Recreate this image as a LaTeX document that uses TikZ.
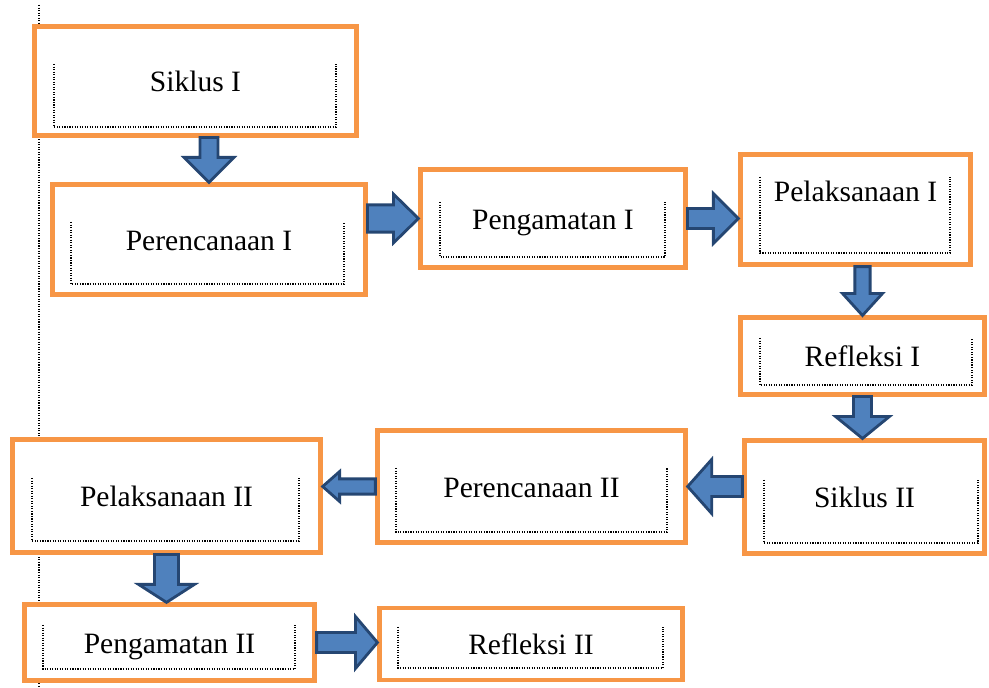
\documentclass[tikz,border=0pt]{standalone}
\usepackage{fontspec}
\setmainfont{Liberation Serif}
\usetikzlibrary{calc}
\definecolor{boxorange}{HTML}{F79646}
\definecolor{arrowfill}{HTML}{4F81BD}
\definecolor{arrowline}{HTML}{254672}
\tikzset{
x=0.025cm, y=-0.025cm, % one unit is one pixel of the sketch, y grows downwards
box/.style={draw=boxorange, fill=white, line width=3pt, text height=18pt, text depth=3pt, font=\fontsize{21}{25}\selectfont}, % the orange frames
bracket/.style={densely dotted, line width=0.8pt}, % dotted inner frame, open at the top
blk shaft/.store in=\blkshaft, blk shaft=0.25cm, % half width of the arrow body
blk head/.store in=\blkhead, blk head=0.6cm, % half width of the arrow head
blk len/.store in=\blklen, blk len=0.6cm, % length of the arrow head
blockarrow/.style={draw=arrowline, fill=arrowfill, line width=2pt, line join=miter,
  to path={let \p1=($(\tikztotarget)!\blklen!(\tikztostart)$) in
    ($(\tikztostart)!\blkshaft!90:(\tikztotarget)$)
    -- ($(\p1)!\blkshaft!-90:(\tikztostart)$)
    -- ($(\p1)!\blkhead!-90:(\tikztostart)$)
    -- (\tikztotarget)
    -- ($(\p1)!\blkhead!90:(\tikztostart)$)
    -- ($(\p1)!\blkshaft!90:(\tikztostart)$)
    -- ($(\tikztostart)!\blkshaft!-90:(\tikztotarget)$)
    -- cycle}}, % fat block arrow from start to target
}

\begin{document}
\begin{tikzpicture}
    \useasboundingbox (0,0) rectangle (989,688);

    % dotted margin line
    \coordinate (mtop) at (39,5);
    \coordinate (mbot) at (39,688);
    \draw[bracket] (mtop) -- (mbot);

    % Cycle I
    \node[box, minimum width=8.05cm, minimum height=2.72cm] (siklusA) at (195.5,81) {Siklus I};
    \draw[bracket] (54,64) |- (336,127) -- (336,64);

    \node[box, minimum width=7.82cm, minimum height=2.75cm] (perencanaanA) at (209,239.5) {Perencanaan I};
    \draw[bracket] (71,222) |- (344,284) -- (344,222);

    \node[box, minimum width=6.62cm, minimum height=2.45cm] (pengamatanA) at (553,218.5) {Pengamatan I};
    \draw[bracket] (440,202) |- (665,257) -- (665,202);

    \node[box, minimum width=5.75cm, minimum height=2.75cm, text depth=29pt] (pelaksanaanA) at (855.5,209.5) {Pelaksanaan I};
    \draw[bracket] (760,177) |- (950,253) -- (950,177);

    \node[box, minimum width=6.1cm, minimum height=1.92cm] (refleksiA) at (862.5,356) {Refleksi I};
    \draw[bracket] (760,338) |- (972,385) -- (972,338);

    % Cycle II
    \node[box, minimum width=6cm, minimum height=2.82cm] (siklusB) at (864.5,497) {Siklus II};
    \draw[bracket] (764,480) |- (978,543) -- (978,480);

    \node[box, minimum width=7.7cm, minimum height=2.8cm] (perencanaanB) at (531.5,486.5) {Perencanaan II};
    \draw[bracket] (396,468) |- (667,532) -- (667,468);

    \node[box, minimum width=7.7cm, minimum height=2.82cm] (pelaksanaanB) at (166.5,496) {Pelaksanaan II};
    \draw[bracket] (32,478) |- (299,541) -- (299,478);

    \node[box, minimum width=7.25cm, minimum height=1.9cm] (pengamatanB) at (169.5,642.5) {Pengamatan II};
    \draw[bracket] (43,625) |- (295,669) -- (295,625);

    \node[box, minimum width=7.57cm, minimum height=1.8cm] (refleksiB) at (531,644) {Refleksi II};
    \draw[bracket] (398,627) |- (663,668) -- (663,627);

    % block arrows
    \draw[blockarrow, blk shaft=0.225cm, blk head=0.625cm, blk len=0.625cm] (perencanaanA.north |- siklusA.south) to (perencanaanA.north);
    \draw[blockarrow, blk shaft=0.34cm, blk head=0.61cm, blk len=0.625cm] (pengamatanA.west -| perencanaanA.east) to (pengamatanA.west);
    \draw[blockarrow, blk shaft=0.25cm, blk head=0.625cm, blk len=0.625cm] (pengamatanA.east) to (pelaksanaanA.west |- pengamatanA.east);
    \draw[blockarrow, blk shaft=0.19cm, blk head=0.5cm, blk len=0.55cm] (refleksiA.north |- pelaksanaanA.south) to (refleksiA.north);
    \draw[blockarrow, blk shaft=0.225cm, blk head=0.675cm, blk len=0.55cm] (refleksiA.south) to (refleksiA.south |- siklusB.north);
    \draw[blockarrow, blk shaft=0.25cm, blk head=0.675cm, blk len=0.6cm] (siklusB.west |- perencanaanB.east) to (perencanaanB.east);
    \draw[blockarrow, blk shaft=0.19cm, blk head=0.375cm, blk len=0.425cm] (perencanaanB.west) to (pelaksanaanB.east |- perencanaanB.west);
    \draw[blockarrow, blk shaft=0.3cm, blk head=0.7cm, blk len=0.45cm] (pelaksanaanB.south) to (pelaksanaanB.south |- pengamatanB.north);
    \draw[blockarrow, blk shaft=0.25cm, blk head=0.65cm, blk len=0.55cm] (pengamatanB.east) to (refleksiB.west |- pengamatanB.east);
\end{tikzpicture}
\end{document}
